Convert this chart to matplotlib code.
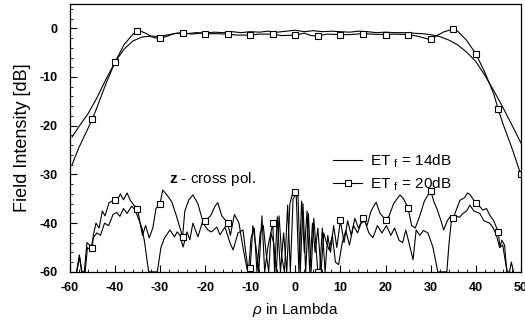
import numpy as np
import matplotlib
matplotlib.use("Agg")
import matplotlib.pyplot as plt
from matplotlib.ticker import MultipleLocator

plt.rcParams['font.family'] = ['Liberation Sans', 'DejaVu Sans']
plt.rcParams['mathtext.fontset'] = 'custom'
plt.rcParams['mathtext.rm'] = 'Liberation Sans'
plt.rcParams['mathtext.it'] = 'Liberation Sans:italic'
plt.rcParams['mathtext.bf'] = 'Liberation Sans:bold'

# co-polar field, ET_f = 14 dB
co14_x = [-49.5, -48, -46, -44, -42, -40, -38, -36, -34, -32, -30, -28, -26, -24, -22, -20,
          -18, -16, -14, -12, -10, -8, -6, -4, -2, 0, 2, 4, 6, 8, 10, 12, 14, 16, 18, 20,
          22, 24, 26, 28, 30, 32, 34, 36, 38, 40, 42, 44, 46, 48, 50]
co14_y = [-22.3, -20.2, -17.6, -14.3, -10.5, -7.0, -4.3, -2.6, -1.8, -1.6, -1.7, -1.3, -1.0, -1.1,
          -0.9, -1.0, -0.8, -0.9, -0.7, -0.9, -0.7, -0.8, -0.6, -0.8, -0.6, -0.4, -0.7, -0.5,
          -0.7, -0.6, -0.7, -0.8, -0.6, -0.7, -0.9, -0.8, -0.9, -0.9, -1.0, -1.1, -1.3, -1.7,
          -2.4, -3.4, -4.9, -6.8, -9.6, -12.8, -16.2, -19.8, -23.5]

# co-polar field, ET_f = 20 dB
co20_x = [-49.5, -48, -46, -45, -44, -42, -40, -38, -36, -35, -34, -33, -32, -31, -30, -29,
          -28, -27, -25, -23, -21, -20, -18, -15, -13, -10, -8, -5, -3, 0, 2, 3.5, 5, 7,
          10, 12, 15, 17, 20, 22, 25, 27, 29, 30, 31, 33, 35, 36, 38, 40, 42, 44, 45, 46,
          48, 50]
co20_y = [-28.0, -24.5, -20.6, -18.6, -16.3, -11.4, -7.0, -3.4, -1.2, -0.6, -0.7, -1.1, -1.7,
          -2.0, -2.0, -1.8, -1.5, -1.1, -0.9, -1.2, -1.0, -1.2, -1.1, -1.2, -1.4, -1.4,
          -1.2, -1.2, -1.5, -1.4, -1.0, -1.5, -1.6, -1.2, -1.3, -1.3, -1.1, -1.2, -1.3,
          -1.2, -1.3, -1.6, -2.1, -2.3, -1.7, -0.7, -0.2, -0.6, -2.5, -5.2, -9.0, -13.5,
          -16.6, -19.5, -24.5, -30.0]

# cross-polar field (z component), ET_f = 14 dB
cx14_x = [-48.5, -47.8, -47.3, -46.6, -46.1, -45.4, -44.8, -44.0, -43.2, -42.3, -41.4, -40.4,
          -39.6, -38.9, -38.1, -37.3, -36.3, -35.5, -34.7, -34.0, -33.4, -32.9, -32.5, -30.6,
          -29.8, -29.0, -27.8, -26.8, -26.2, -25.6, -24.9, -24.0, -23.4, -22.7, -21.6, -20.6,
          -19.4, -18.6, -17.4, -16.7, -15.6, -14.5, -13.8, -12.7, -11.6, -11.0, -10.4, -9.8,
          -9.1, -8.5, -7.8, -7.1, -6.5, -5.9, -5.4, -4.8, -4.2, -3.6, -3.0, -2.4, -1.7,
          -1.1, -0.5, 0.2, 0.8, 1.4, 2.0, 2.6, 3.2, 3.8, 4.4, 5.0, 5.7, 6.3, 6.9, 7.5, 8.2,
          8.9, 9.6, 10.4, 11.2, 12.0, 12.9, 13.8, 14.6, 15.4, 16.3, 17.2, 18.2, 19.2, 20.2,
          21.2, 22.0, 23.0, 23.8, 24.5, 25.2, 26.1, 26.8, 27.6, 28.4, 29.4, 30.5, 31.6,
          33.6, 34.1, 34.7, 35.5, 36.4, 37.2, 38.0, 38.7, 39.6, 40.9, 41.8, 43.1, 43.9,
          44.6, 45.3, 46.0, 46.6, 47.0]
cx14_y = [-50, -47, -50, -50, -45, -45.5, -43, -42, -42.5, -40, -40.5, -38.2, -37.8, -38.6,
          -37, -38, -36.5, -37.3, -39.3, -41, -44, -47.5, -50, -50, -45, -43, -41.4, -42.8,
          -41.8, -42.4, -44.9, -41.8, -43.4, -40, -42.8, -39.8, -41.4, -41.8, -40.8, -42.4,
          -40.8, -44, -45.5, -42, -41.4, -46, -50, -43, -41, -50, -42, -40.5, -46, -50, -42,
          -44, -50, -38.5, -47, -50, -36.3, -50, -35, -34, -50, -35.5, -46, -37.5, -50, -40,
          -46, -41, -50, -42, -44, -45.5, -42.5, -48, -48.5, -44, -41.5, -44.5, -40.5, -42,
          -40, -39.5, -42, -43, -40.5, -42, -40.5, -42.5, -41, -43.5, -44, -41.4, -44, -47.5,
          -41.4, -42.5, -41.5, -42, -44.9, -50, -50, -44, -38.7, -38.5, -38.8, -38, -37.5,
          -36.3, -37.5, -38, -39.5, -40, -41, -42.5, -45, -44.5, -48, -50]

# cross-polar field (z component), ET_f = 20 dB
cx20_x = [-48.5, -47.9, -47.4, -46.8, -46.2, -45, -44.8, -44.2, -43.5, -42.8, -42.2, -41.3,
          -40, -39.6, -38.8, -38.1, -37.3, -36.6, -35.9, -35, -34.5, -33.9, -33.2, -32.4,
          -31.6, -30.9, -30, -29.4, -28.4, -27.4, -26.3, -25, -24.5, -23.6, -22.7, -21.6,
          -20.7, -20, -18.8, -17.8, -17.2, -16.3, -15.4, -15, -14.4, -13.5, -12.5, -11.7,
          -10.7, -10, -9.4, -8.7, -8.1, -7.4, -6.8, -6.1, -5, -4.6, -4.0, -3.3, -2.6, -1.9,
          -1.2, -0.5, 0, 0.6, 1.1, 1.7, 2.3, 2.9, 3.5, 4.1, 5, 5.4, 6.0, 6.6, 7.2, 7.8, 8.5,
          9.2, 10, 10.8, 11.6, 12.4, 13.2, 14.0, 15, 15.9, 16.8, 17.9, 18.8, 20, 20.8, 21.8,
          23.2, 24.0, 25, 25.8, 26.6, 27.6, 28.6, 30, 30.7, 31.5, 32.3, 32.9, 33.7, 34.3,
          35, 35.8, 36.5, 37.5, 38.2, 38.8, 40, 40.8, 41.6, 42.4, 43.2, 44.0, 45, 45.4,
          45.8, 46.4, 46.9, 47.5, 47.9, 48.4]
cx20_y = [-50, -46.5, -50, -50, -44, -45, -42.5, -40, -41, -37.5, -38.5, -35.8, -35.2, -35.5,
          -34, -35.2, -33.8, -35.3, -36.2, -37, -39.5, -42.5, -40.5, -43, -41, -37, -36,
          -33.2, -34.3, -35.6, -38.7, -42.8, -37.5, -35.2, -34.2, -36, -39, -39.5, -38.5,
          -36.5, -35.8, -38.5, -39.5, -40, -42.5, -38.2, -40, -44.5, -49.5, -49.2, -40.5,
          -45, -50, -38.5, -50, -45, -40, -50, -38.7, -50, -42, -50, -36, -33.5, -33.6,
          -34.5, -50, -36, -50, -38, -50, -39, -50, -50, -41, -50, -42.5, -46, -40.5, -45,
          -39.4, -44, -39.5, -42.5, -39, -41, -39, -40.5, -37.5, -35.7, -38, -39.3, -38.5,
          -36, -34.2, -35, -36.9, -40.5, -41, -38.5, -35.5, -33.3, -35.5, -37.3, -39.5,
          -41.4, -39.5, -38.7, -39, -37, -35.3, -34.8, -33.8, -34.2, -35.9, -36.5, -37.3,
          -37, -38.5, -39.5, -41.8, -44.9, -43.5, -44.5, -50, -50, -48, -50]

marker_x = [-45, -40, -35, -30, -25, -20, -15, -10, -5, 0, 5, 10, 15, 20, 25, 30, 35, 40, 45, 50]

x_ticks = [-50, -40, -30, -20, -10, 0, 10, 20, 30, 40, 50]
x_ticklabels = ['-60', '-40', '-30', '-20', '-10', '0', '10', '20', '30', '40', '50']
y_ticks = [0, -10, -20, -30, -40, -50]
y_ticklabels = ['0', '-10', '-20', '-30', '-40', '-60']

fig = plt.figure(figsize=(5.25, 3.26), dpi=100)
ax = fig.add_axes([0.133, 0.166, 0.859, 0.822])

mk = dict(marker='s', markersize=4.5, markerfacecolor='white', markeredgecolor='black',
          markeredgewidth=0.8)

ax.plot(co14_x, co14_y, color='black', lw=0.8, label=r'ET $_{\mathrm{f}}$ = 14dB')
idx = [i for i, v in enumerate(co20_x) if v in marker_x]
ax.plot(co20_x, co20_y, color='black', lw=0.8, markevery=idx, label=r'ET $_{\mathrm{f}}$ = 20dB', **mk)

ax.plot(cx14_x, cx14_y, color='black', lw=0.8)
idx = [i for i, v in enumerate(cx20_x) if v in marker_x]
ax.plot(cx20_x, cx20_y, color='black', lw=0.8, markevery=idx, **mk)

ax.set_xlim(-50, 50)
ax.set_ylim(-50, 5)
ax.set_xticks(x_ticks)
ax.set_xticklabels(x_ticklabels, fontweight='bold', fontsize=9)
ax.set_yticks(y_ticks)
ax.set_yticklabels(y_ticklabels, fontweight='bold', fontsize=9)
ax.xaxis.set_minor_locator(MultipleLocator(2))
ax.yaxis.set_minor_locator(MultipleLocator(2))
ax.tick_params(which='major', direction='in', length=5, width=0.8)
ax.tick_params(axis='x', which='major', pad=7)
ax.tick_params(axis='y', which='major', pad=9)
ax.tick_params(which='minor', direction='in', length=2.5, width=0.6)
for s in ax.spines.values():
    s.set_linewidth(0.9)

ax.set_xlabel(r'$\rho$ in Lambda', fontsize=11, labelpad=5)
ax.set_ylabel('Field Intensity [dB]', fontsize=13, labelpad=6)

ax.text(-28, -31, r'$\mathbf{z}$ - cross pol.', fontsize=11, va='center')

ax.legend(loc='upper left', bbox_to_anchor=(0.567, 0.474), frameon=False, fontsize=11,
          handlelength=1.9, handletextpad=0.5, labelspacing=0.35, borderpad=0)

fig.savefig('out.png', dpi=100)
